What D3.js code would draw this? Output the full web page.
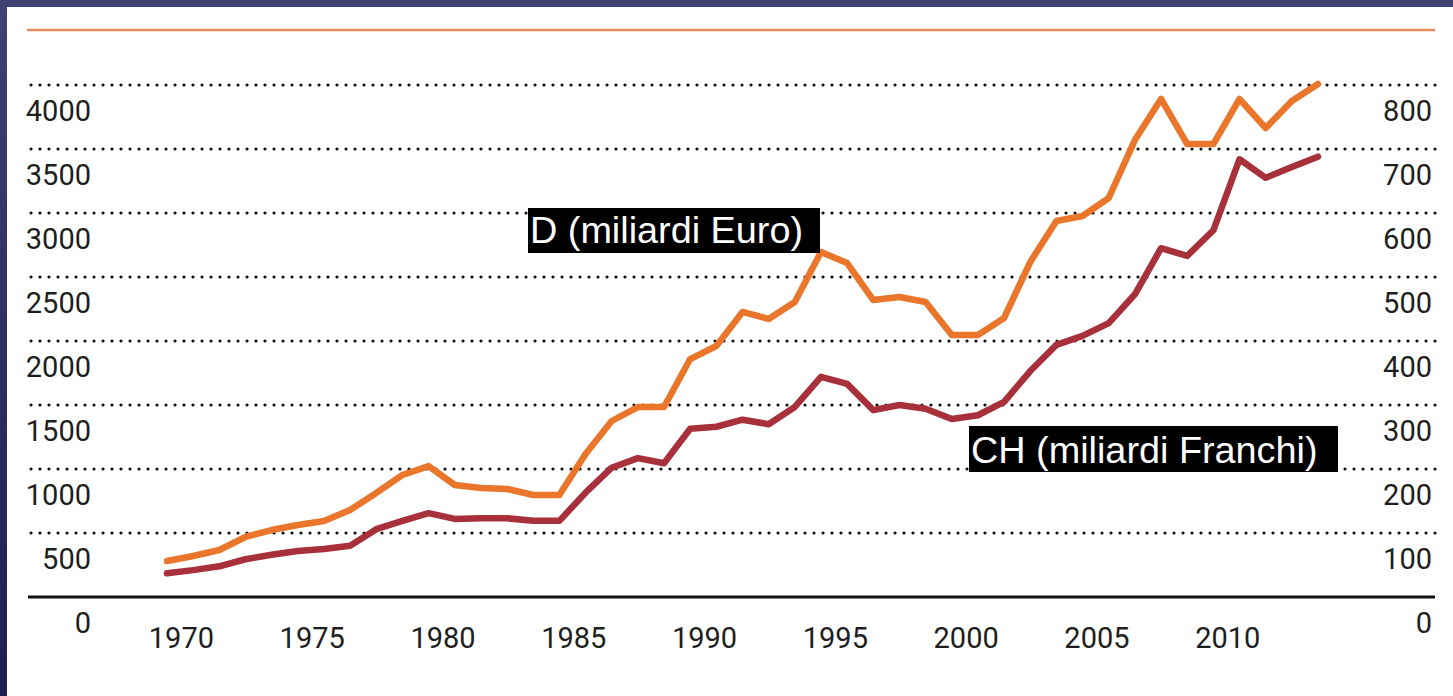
<!DOCTYPE html>
<html>
<head>
<meta charset="utf-8">
<script src="https://cdn.jsdelivr.net/npm/d3@7"></script>
<style>
  html, body { margin: 0; padding: 0; background: #fff; }
  svg { display: block; }
</style>
</head>
<body>
<div id="chart"></div>
<script>
// --- data ---
const years = d3.range(1970, 2015);
const dValues = [281, 320, 367, 469, 523, 563, 594, 680, 813, 953,
                 1023, 875, 852, 844, 797, 797, 1117, 1375, 1484, 1484,
                 1859, 1961, 2227, 2172, 2305, 2695, 2609, 2320, 2344, 2305,
                 2047, 2047, 2180, 2617, 2938, 2977, 3117, 3570, 3891, 3539,
                 3539, 3891, 3664, 3875, 4008];
const chValues = [37, 42, 48, 59, 66, 72, 75, 80, 106, 119,
                  131, 122, 123, 123, 119, 119, 163, 202, 217, 209,
                  263, 266, 277, 270, 297, 344, 333, 292, 300, 294,
                  278, 284, 305, 353, 394, 408, 428, 473, 545, 533,
                  573, 684, 655, 672, 688];
const leftTicks = [0, 500, 1000, 1500, 2000, 2500, 3000, 3500, 4000];
const rightTicks = [0, 100, 200, 300, 400, 500, 600, 700, 800];
const yearTicks = [1970, 1975, 1980, 1985, 1990, 1995, 2000, 2005, 2010];
const labelD = "D (miliardi Euro)";
const labelCH = "CH (miliardi Franchi)";

const width = 1453, height = 696;
const orange = "#e9762b", darkRed = "#a8303a";

const svg = d3.select("#chart").append("svg")
    .attr("width", width)
    .attr("height", height);

// frame (navy border on top and left)
const defs = svg.append("defs");
const grad = defs.append("linearGradient")
    .attr("id", "sideGrad")
    .attr("x1", 0).attr("y1", 0).attr("x2", 0).attr("y2", 1);
grad.append("stop").attr("offset", "0%").attr("stop-color", "#3f4270");
grad.append("stop").attr("offset", "100%").attr("stop-color", "#1c1f4e");

svg.append("rect").attr("x", 0).attr("y", 0).attr("width", width).attr("height", 7)
    .style("fill", "#3f4270");
svg.append("rect").attr("x", 0).attr("y", 0).attr("width", 7).attr("height", height)
    .style("fill", "url(#sideGrad)");

const x = d3.scaleLinear().domain([1970, 2014]).range([167, 1318]);
const yLeft = d3.scaleLinear().domain([0, 4000]).range([597, 85]);
const yRight = d3.scaleLinear().domain([0, 800]).range([597, 85]);

const gx0 = 31, gx1 = 1436;

// orange rule at the top
svg.append("line")
    .attr("x1", 27).attr("x2", 1435)
    .attr("y1", 30).attr("y2", 30)
    .style("stroke", "#ea8a5e")
    .style("stroke-width", 2.5);

// dotted gridlines
svg.append("g").selectAll("line")
    .data(leftTicks.filter(d => d > 0))
    .join("line")
    .attr("x1", gx0).attr("x2", gx1)
    .attr("y1", d => yLeft(d)).attr("y2", d => yLeft(d))
    .style("stroke", "#111")
    .style("stroke-width", 3.2)
    .style("stroke-linecap", "round")
    .style("stroke-dasharray", "0 9");

// baseline
svg.append("line")
    .attr("x1", 28).attr("x2", 1435)
    .attr("y1", yLeft(0)).attr("y2", yLeft(0))
    .style("stroke", "#111")
    .style("stroke-width", 2.8);

const tickFont = "Roboto, 'DejaVu Sans Condensed', sans-serif";

function tickText(sel) {
    sel.style("font-family", tickFont)
        .style("font-weight", 400)
        .style("font-size", "29px")
        .style("fill", "#1e1e1e");
}

// left axis labels (below each gridline)
svg.append("g").selectAll("text")
    .data(leftTicks)
    .join("text")
    .attr("x", 91)
    .attr("y", d => yLeft(d) + 36)
    .attr("text-anchor", "end")
    .text(d => d)
    .call(tickText);

// right axis labels
svg.append("g").selectAll("text")
    .data(rightTicks)
    .join("text")
    .attr("x", 1432)
    .attr("y", d => yRight(d) + 36)
    .attr("text-anchor", "end")
    .text(d => d)
    .call(tickText);

// year labels
svg.append("g").selectAll("text")
    .data(yearTicks)
    .join("text")
    .attr("x", d => x(d + 0.55))
    .attr("y", 648)
    .attr("text-anchor", "middle")
    .text(d => d)
    .call(tickText);

// lines
const lineD = d3.line()
    .x((d, i) => x(years[i]))
    .y(d => yLeft(d));
const lineCH = d3.line()
    .x((d, i) => x(years[i]))
    .y(d => yRight(d));

svg.append("path")
    .datum(chValues)
    .attr("d", lineCH)
    .style("fill", "none")
    .style("stroke", darkRed)
    .style("stroke-width", 6.5)
    .style("stroke-linejoin", "round")
    .style("stroke-linecap", "round");

svg.append("path")
    .datum(dValues)
    .attr("d", lineD)
    .style("fill", "none")
    .style("stroke", orange)
    .style("stroke-width", 6.5)
    .style("stroke-linejoin", "round")
    .style("stroke-linecap", "round");

// labels in black boxes
function boxLabel(txt, bx, by, bw, bh, tx, ty) {
    svg.append("rect")
        .attr("x", bx).attr("y", by)
        .attr("width", bw).attr("height", bh)
        .style("fill", "#000");
    svg.append("text")
        .attr("x", tx).attr("y", ty)
        .text(txt)
        .style("font-family", "'Liberation Sans', Arial, sans-serif")
        .style("font-size", "37.8px")
        .style("fill", "#fff");
}
boxLabel(labelD, 528, 208, 292, 45, 530, 243);
boxLabel(labelCH, 969, 426, 369, 46, 971, 463);
</script>
</body>
</html>
